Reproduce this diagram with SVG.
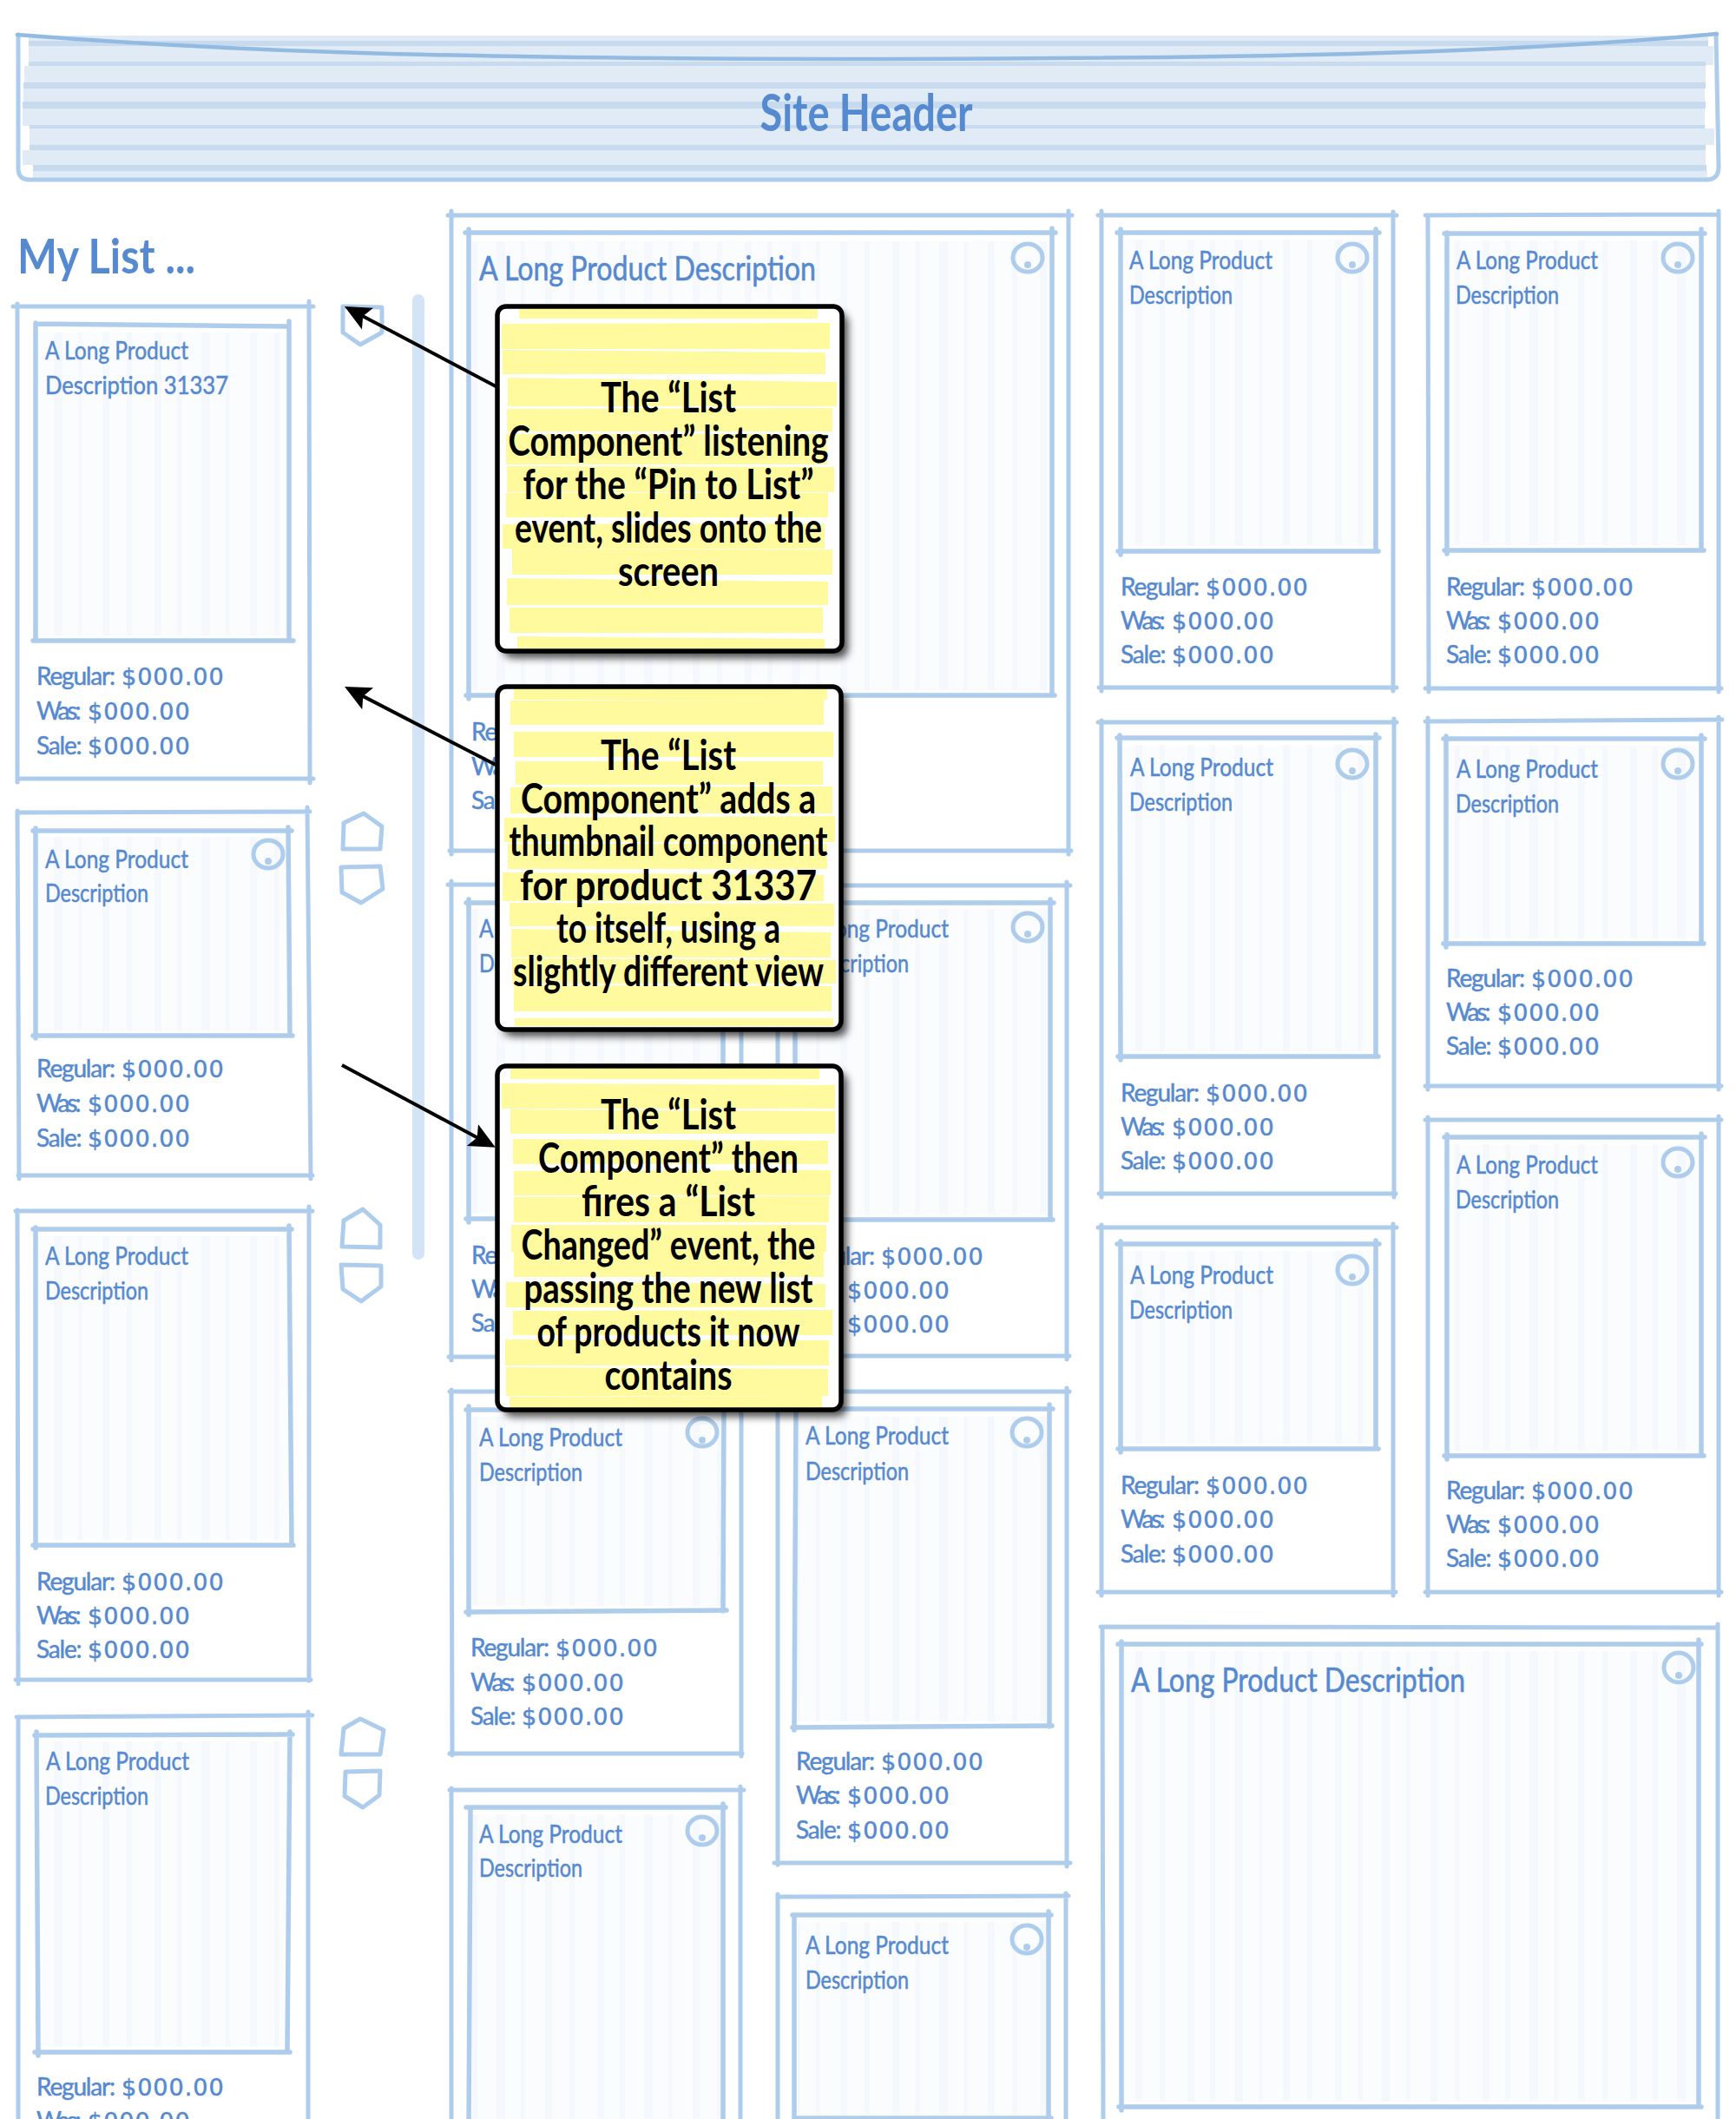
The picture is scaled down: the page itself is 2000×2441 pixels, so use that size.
<svg xmlns="http://www.w3.org/2000/svg" width="2000" height="2441" viewBox="0 0 2000 2441">
<style>
text{font-family:"Lato","Liberation Sans",sans-serif}
.o,.i,.ic,.c{fill:none;stroke:#aecdec;stroke-linecap:round;stroke-linejoin:round}
.o{stroke-width:5}.i{stroke-width:5.5}.ic{stroke-width:5}.c{stroke-width:5}
.d{fill:#aecdec}
.h{fill:url(#hatch)}
.t{fill:#5589d0;stroke:#5589d0;stroke-width:.5;font-size:28px}
.r{letter-spacing:-1.2px}
.w{letter-spacing:-3px}
.v{font-family:"DejaVu Sans",sans-serif;font-size:27px;letter-spacing:1px}
.tl{fill:#5589d0;stroke:#5589d0;stroke-width:.6;font-size:38px}
.hd{fill:#5589d0;font-size:60px;font-weight:700;text-anchor:middle}
.n{fill:#000;font-size:48px;font-weight:700;text-anchor:middle}
.b{fill:#fffa9e}
.nb{fill:#fff;filter:url(#sh)}
.ns{fill:none;stroke:#000;stroke-width:5.5}
.l{fill:#e1ebf6}.k{fill:#c8dbee}
.a{fill:none;stroke:#000;stroke-width:4;marker-end:url(#ah)}
</style>
<defs>
<pattern id="hatch" patternUnits="userSpaceOnUse" width="170" height="40">
<rect width="170" height="40" fill="#fbfcfe"/>
<rect x="8" width="8" height="40" fill="#f5f8fd"/><rect x="34" width="6" height="40" fill="#f5f8fd"/><rect x="62" width="10" height="40" fill="#f5f8fd"/><rect x="90" width="5" height="40" fill="#f5f8fd"/><rect x="118" width="8" height="40" fill="#f5f8fd"/><rect x="146" width="6" height="40" fill="#f5f8fd"/>
</pattern>
<marker id="ah" markerUnits="userSpaceOnUse" markerWidth="34" markerHeight="30" viewBox="0 -15 32 30" refX="20" refY="0" orient="auto"><path d="M30 0L0 -14L6 0L0 14Z" fill="#000"/></marker>
<filter id="sh" x="-10%" y="-10%" width="125%" height="125%"><feDropShadow dx="7" dy="8" stdDeviation="5" flood-color="#000" flood-opacity=".7"/></filter>
</defs>
<rect width="2000" height="2441" fill="#fff"/>

<g id="site-header">
<rect class="l" x="33" y="41" width="1935" height="6"/>
<rect class="k" x="33" y="47" width="1935" height="6"/>
<rect class="l" x="33" y="53" width="1941" height="22"/>
<rect class="k" x="33" y="71" width="1932" height="5"/>
<rect class="l" x="28" y="76" width="1937" height="21"/>
<rect class="k" x="27" y="95" width="1938" height="7"/>
<rect class="l" x="27" y="102" width="1937" height="16"/>
<rect class="k" x="26" y="117" width="1939" height="8"/>
<rect class="l" x="26" y="125" width="1938" height="20"/>
<rect class="k" x="34" y="144" width="1930" height="4"/>
<rect class="l" x="34" y="148" width="1941" height="19"/>
<rect class="k" x="34" y="167" width="1931" height="6"/>
<rect class="l" x="26" y="173" width="1939" height="17"/>
<rect class="k" x="38" y="190" width="1928" height="7"/>
<rect class="l" x="38" y="197" width="1929" height="9"/>
<path d="M21 40V194Q21 207 34 207H1966Q1980 207 1980 192L1977 39" fill="none" stroke="#aecdec" stroke-width="5" stroke-linecap="round"/>
<path d="M20 40C250 58 500 68 1000 68C1500 67 1750 60 1978 39" fill="none" stroke="#93bbe2" stroke-width="4.5" stroke-linecap="round"/>
<text class="hd" x="998" y="151" textLength="245" lengthAdjust="spacingAndGlyphs">Site Header</text>
</g>

<text id="my-list-title" x="20" y="315" fill="#5589d0" font-size="56" font-weight="700" textLength="205" lengthAdjust="spacingAndGlyphs">My List ...</text>

<rect id="scrollbar" x="475" y="339" width="14" height="1112" rx="7" fill="#d2e4f5"/>

<g id="L1">
<path class="o" d="M15 353H361M356 347L357 902M361 897H20M20 901V350"/>
<rect class="h" x="44" y="383" width="287" height="349"/>
<path class="i" d="M41 373L333 376M333 370V738M338 738H38M41 738V372"/>
<text class="t" x="52" y="414" textLength="165" lengthAdjust="spacingAndGlyphs">A Long Product</text>
<text class="t" x="52" y="454" textLength="211" lengthAdjust="spacingAndGlyphs">Description 31337</text>
<text class="t r" x="42" y="789">Regular: <tspan class="v" x="140">$000.00</tspan></text>
<text class="t w" x="42" y="829">Was: <tspan class="v" x="101">$000.00</tspan></text>
<text class="t r" x="42" y="869">Sale: <tspan class="v" x="101">$000.00</tspan></text>
</g>
<g id="L2">
<path class="o" d="M20 936L357 935M354 930L358 1358M360 1354H21M22 1358L20 934"/>
<rect class="h" x="44" y="964" width="288" height="223"/>
<ellipse class="c" cx="309" cy="984" rx="17" ry="16"/><circle class="d" cx="309" cy="992" r="4"/>
<path class="i" d="M38 957H336M332 953L334 1193M337 1193H38M41 1196V954"/>
<text class="t" x="52" y="1000" textLength="165" lengthAdjust="spacingAndGlyphs">A Long Product</text>
<text class="t" x="52" y="1039" textLength="119" lengthAdjust="spacingAndGlyphs">Description</text>
<text class="t r" x="42" y="1241">Regular: <tspan class="v" x="140">$000.00</tspan></text>
<text class="t w" x="42" y="1281">Was: <tspan class="v" x="101">$000.00</tspan></text>
<text class="t r" x="42" y="1321">Sale: <tspan class="v" x="101">$000.00</tspan></text>
</g>
<g id="L3">
<path class="o" d="M18 1395H360M356 1390V1936M358 1935H18M21 1940L20 1394"/>
<rect class="h" x="44" y="1424" width="288" height="350"/>
<path class="i" d="M38 1416H336M333 1412L336 1780M338 1780H38M41 1783V1414"/>
<text class="t" x="52" y="1457" textLength="165" lengthAdjust="spacingAndGlyphs">A Long Product</text>
<text class="t" x="52" y="1497" textLength="119" lengthAdjust="spacingAndGlyphs">Description</text>
<text class="t r" x="42" y="1832">Regular: <tspan class="v" x="140">$000.00</tspan></text>
<text class="t w" x="42" y="1871">Was: <tspan class="v" x="101">$000.00</tspan></text>
<text class="t r" x="42" y="1910">Sale: <tspan class="v" x="101">$000.00</tspan></text>
</g>
<g id="L4">
<path class="o" d="M19 1978L360 1976M355 1972V2460M21 2460V1978"/>
<rect class="h" x="46" y="2006" width="286" height="352"/>
<path class="i" d="M40 1999L337 1998M334 1995L331 2364M334 2364H40M44 2368L42 1995"/>
<text class="t" x="53" y="2039" textLength="165" lengthAdjust="spacingAndGlyphs">A Long Product</text>
<text class="t" x="52" y="2079" textLength="119" lengthAdjust="spacingAndGlyphs">Description</text>
<text class="t r" x="42" y="2414">Regular: <tspan class="v" x="140">$000.00</tspan></text>
<text class="t w" x="42" y="2453">Was: <tspan class="v" x="101">$000.00</tspan></text>
</g>

<g id="pin-icons">
<path class="ic" d="M395 353L440 354V383L415 397L395 383Z"/>
<path class="ic" d="M395 978L396 948L419 937L440 952L438 978Z"/>
<path class="ic" d="M393 999L438 998L441 1024L416 1040L394 1028Z"/>
<path class="ic" d="M394 1436L396 1406L418 1393L438 1411L438 1437Z"/>
<path class="ic" d="M393 1457L439 1458L439 1482L416 1499L395 1485Z"/>
<path class="ic" d="M393 2021L396 1991L415 1980L442 1993L438 2021Z"/>
<path class="ic" d="M398 2041L438 2040L437 2068L418 2082L397 2069Z"/>
</g>

<g id="M1">
<path class="o" d="M516 248H1235M1231 243V984M1234 980H518M520 984V243"/>
<rect class="h" x="543" y="278" width="666" height="517"/>
<ellipse class="c" cx="1184" cy="297" rx="17" ry="16"/><circle class="d" cx="1184" cy="305" r="4"/>
<path class="i" d="M536 268H1216M1212 263V801M1215 801H537M540 805V264"/>
<text class="tl" x="552" y="323" textLength="388" lengthAdjust="spacingAndGlyphs">A Long Product Description</text>
<text class="t r" x="543" y="853">Regular: <tspan class="v" x="641">$000.00</tspan></text>
<text class="t w" x="543" y="893">Was: <tspan class="v" x="602">$000.00</tspan></text>
<text class="t r" x="543" y="932">Sale: <tspan class="v" x="602">$000.00</tspan></text>
</g>
<g id="M2">
<path class="o" d="M516 1019H858M854 1015V1567M857 1563H517M520 1567V1015"/>
<rect class="h" x="543" y="1047" width="288" height="351"/>
<path class="i" d="M537 1040H837M833 1036V1404M836 1404H537M540 1408V1036"/>
<text class="t" x="552" y="1080" textLength="165" lengthAdjust="spacingAndGlyphs">A Long Product</text>
<text class="t" x="552" y="1120" textLength="119" lengthAdjust="spacingAndGlyphs">Description</text>
<text class="t r" x="543" y="1456">Regular: <tspan class="v" x="641">$000.00</tspan></text>
<text class="t w" x="543" y="1495">Was: <tspan class="v" x="602">$000.00</tspan></text>
<text class="t r" x="543" y="1534">Sale: <tspan class="v" x="602">$000.00</tspan></text>
</g>
<g id="M3">
<path class="o" d="M892 1020H1233M1229 1016V1566M1232 1562H893M896 1566V1016"/>
<rect class="h" x="919" y="1047" width="288" height="352"/>
<ellipse class="c" cx="1184" cy="1068" rx="17" ry="16"/><circle class="d" cx="1184" cy="1076" r="4"/>
<path class="i" d="M913 1040H1214M1210 1036V1405M1213 1405H913M916 1409V1036"/>
<text class="t" x="928" y="1080" textLength="165" lengthAdjust="spacingAndGlyphs">A Long Product</text>
<text class="t" x="928" y="1120" textLength="119" lengthAdjust="spacingAndGlyphs">Description</text>
<text class="t r" x="917" y="1457">Regular: <tspan class="v" x="1015">$000.00</tspan></text>
<text class="t w" x="917" y="1496">Was: <tspan class="v" x="976">$000.00</tspan></text>
<text class="t r" x="917" y="1535">Sale: <tspan class="v" x="976">$000.00</tspan></text>
</g>
<g id="M4">
<path class="o" d="M518 1603H858M854 1599V2023M855 2020H518M521 2022L520 1601"/>
<rect class="h" x="543" y="1632" width="288" height="218"/>
<ellipse class="c" cx="809" cy="1650" rx="17" ry="16"/><circle class="d" cx="809" cy="1659" r="4"/>
<path class="i" d="M537 1624H837L834 1620L833 1856M837 1855L537 1857M540 1860V1620"/>
<text class="t" x="552" y="1666" textLength="165" lengthAdjust="spacingAndGlyphs">A Long Product</text>
<text class="t" x="552" y="1706" textLength="119" lengthAdjust="spacingAndGlyphs">Description</text>
<text class="t r" x="542" y="1908">Regular: <tspan class="v" x="640">$000.00</tspan></text>
<text class="t w" x="542" y="1948">Was: <tspan class="v" x="601">$000.00</tspan></text>
<text class="t r" x="542" y="1987">Sale: <tspan class="v" x="601">$000.00</tspan></text>
</g>
<g id="M5">
<path class="o" d="M892 1603H1232M1229 1599V2150M1233 2146H892M896 2148V1603"/>
<rect class="h" x="918" y="1632" width="288" height="351"/>
<ellipse class="c" cx="1183" cy="1650" rx="17" ry="16"/><circle class="d" cx="1183" cy="1659" r="4"/>
<path class="i" d="M913 1623H1213M1209 1618V1989M1212 1988L913 1990M915 1993L917 1623"/>
<text class="t" x="928" y="1664" textLength="165" lengthAdjust="spacingAndGlyphs">A Long Product</text>
<text class="t" x="928" y="1705" textLength="119" lengthAdjust="spacingAndGlyphs">Description</text>
<text class="t r" x="917" y="2039">Regular: <tspan class="v" x="1015">$000.00</tspan></text>
<text class="t w" x="917" y="2078">Was: <tspan class="v" x="976">$000.00</tspan></text>
<text class="t r" x="917" y="2118">Sale: <tspan class="v" x="976">$000.00</tspan></text>
</g>
<g id="M6">
<path class="o" d="M518 2062H857M853 2058V2460M520 2460V2060"/>
<rect class="h" x="544" y="2090" width="286" height="351"/>
<ellipse class="c" cx="809" cy="2109" rx="17" ry="16"/><circle class="d" cx="809" cy="2117" r="4"/>
<path class="i" d="M537 2082H836M833 2078V2460M540 2460L542 2082"/>
<text class="t" x="552" y="2123" textLength="165" lengthAdjust="spacingAndGlyphs">A Long Product</text>
<text class="t" x="552" y="2162" textLength="119" lengthAdjust="spacingAndGlyphs">Description</text>
</g>
<g id="M7">
<path class="o" d="M896 2185L1231 2184M1228 2181V2460M896 2460V2182"/>
<rect class="h" x="919" y="2214" width="286" height="222"/>
<ellipse class="c" cx="1183" cy="2234" rx="17" ry="16"/><circle class="d" cx="1183" cy="2243" r="4"/>
<path class="i" d="M913 2206H1211M1208 2202V2440M1211 2440H915M915 2443V2206"/>
<text class="t" x="928" y="2251" textLength="165" lengthAdjust="spacingAndGlyphs">A Long Product</text>
<text class="t" x="928" y="2291" textLength="119" lengthAdjust="spacingAndGlyphs">Description</text>
</g>

<g id="R1">
<path class="o" d="M1265 248H1609M1605 244V796M1609 792H1266M1269 796V243"/>
<rect class="h" x="1293" y="276" width="290" height="353"/>
<ellipse class="c" cx="1558" cy="297" rx="17" ry="16"/><circle class="d" cx="1558" cy="305" r="4"/>
<path class="i" d="M1287 268H1589M1585 264V635M1588 635H1288M1291 639V264"/>
<text class="t" x="1301" y="310" textLength="165" lengthAdjust="spacingAndGlyphs">A Long Product</text>
<text class="t" x="1301" y="350" textLength="119" lengthAdjust="spacingAndGlyphs">Description</text>
<text class="t r" x="1291" y="686">Regular: <tspan class="v" x="1389">$000.00</tspan></text>
<text class="t w" x="1291" y="725">Was: <tspan class="v" x="1350">$000.00</tspan></text>
<text class="t r" x="1291" y="764">Sale: <tspan class="v" x="1350">$000.00</tspan></text>
</g>
<g id="R2">
<path class="o" d="M1642 248L1980 247M1980 243V797M1983 793H1642M1646 797L1645 248"/>
<rect class="h" x="1670" y="277" width="288" height="351"/>
<ellipse class="c" cx="1933" cy="297" rx="17" ry="16"/><circle class="d" cx="1933" cy="305" r="4"/>
<path class="i" d="M1664 269H1964M1960 264V634M1963 634H1664M1667 638V268"/>
<text class="t" x="1678" y="310" textLength="163" lengthAdjust="spacingAndGlyphs">A Long Product</text>
<text class="t" x="1677" y="350" textLength="119" lengthAdjust="spacingAndGlyphs">Description</text>
<text class="t r" x="1666" y="686">Regular: <tspan class="v" x="1764">$000.00</tspan></text>
<text class="t w" x="1666" y="725">Was: <tspan class="v" x="1725">$000.00</tspan></text>
<text class="t r" x="1666" y="764">Sale: <tspan class="v" x="1725">$000.00</tspan></text>
</g>
<g id="R3">
<path class="o" d="M1265 832H1609M1606 828V1379M1608 1375H1266M1269 1379V830"/>
<rect class="h" x="1293" y="858" width="290" height="353"/>
<ellipse class="c" cx="1558" cy="880" rx="17" ry="16"/><circle class="d" cx="1558" cy="888" r="4"/>
<path class="i" d="M1287 850H1589M1585 846V1217M1588 1217H1288M1291 1221L1290 847"/>
<text class="t" x="1302" y="894" textLength="165" lengthAdjust="spacingAndGlyphs">A Long Product</text>
<text class="t" x="1301" y="934" textLength="119" lengthAdjust="spacingAndGlyphs">Description</text>
<text class="t r" x="1291" y="1269">Regular: <tspan class="v" x="1389">$000.00</tspan></text>
<text class="t w" x="1291" y="1308">Was: <tspan class="v" x="1350">$000.00</tspan></text>
<text class="t r" x="1291" y="1347">Sale: <tspan class="v" x="1350">$000.00</tspan></text>
</g>
<g id="R4">
<path class="o" d="M1642 831L1984 829M1980 826V1255M1983 1251H1642M1645 1255V827"/>
<rect class="h" x="1669" y="859" width="288" height="222"/>
<ellipse class="c" cx="1933" cy="880" rx="17" ry="16"/><circle class="d" cx="1933" cy="888" r="4"/>
<path class="i" d="M1663 851H1964M1960 847V1087M1963 1087H1663M1666 1091V848"/>
<text class="t" x="1678" y="896" textLength="163" lengthAdjust="spacingAndGlyphs">A Long Product</text>
<text class="t" x="1677" y="936" textLength="119" lengthAdjust="spacingAndGlyphs">Description</text>
<text class="t r" x="1666" y="1137">Regular: <tspan class="v" x="1764">$000.00</tspan></text>
<text class="t w" x="1666" y="1176">Was: <tspan class="v" x="1725">$000.00</tspan></text>
<text class="t r" x="1666" y="1215">Sale: <tspan class="v" x="1725">$000.00</tspan></text>
</g>
<g id="R5">
<path class="o" d="M1265 1414H1609M1605 1410V1838M1608 1834H1265M1269 1838V1411"/>
<rect class="h" x="1293" y="1441" width="290" height="222"/>
<ellipse class="c" cx="1558" cy="1463" rx="17" ry="16"/><circle class="d" cx="1558" cy="1471" r="4"/>
<path class="i" d="M1287 1433H1589M1585 1429V1669M1588 1669H1288M1291 1673V1430"/>
<text class="t" x="1302" y="1479" textLength="165" lengthAdjust="spacingAndGlyphs">A Long Product</text>
<text class="t" x="1301" y="1519" textLength="119" lengthAdjust="spacingAndGlyphs">Description</text>
<text class="t r" x="1291" y="1721">Regular: <tspan class="v" x="1389">$000.00</tspan></text>
<text class="t w" x="1291" y="1760">Was: <tspan class="v" x="1350">$000.00</tspan></text>
<text class="t r" x="1291" y="1800">Sale: <tspan class="v" x="1350">$000.00</tspan></text>
</g>
<g id="R6">
<path class="o" d="M1642 1290H1983M1980 1286V1838M1983 1834H1642M1645 1838V1287"/>
<rect class="h" x="1670" y="1318" width="288" height="353"/>
<ellipse class="c" cx="1933" cy="1339" rx="17" ry="16"/><circle class="d" cx="1933" cy="1347" r="4"/>
<path class="i" d="M1664 1310H1964M1960 1306V1677M1963 1677H1664M1667 1681V1307"/>
<text class="t" x="1678" y="1352" textLength="163" lengthAdjust="spacingAndGlyphs">A Long Product</text>
<text class="t" x="1677" y="1392" textLength="119" lengthAdjust="spacingAndGlyphs">Description</text>
<text class="t r" x="1666" y="1727">Regular: <tspan class="v" x="1764">$000.00</tspan></text>
<text class="t w" x="1666" y="1766">Was: <tspan class="v" x="1725">$000.00</tspan></text>
<text class="t r" x="1666" y="1805">Sale: <tspan class="v" x="1725">$000.00</tspan></text>
</g>
<g id="R7">
<path class="o" d="M1268 1874L1979 1875M1979 1871V2460M1271 2460L1270 1875"/>
<rect class="h" x="1295" y="1902" width="660" height="519"/>
<ellipse class="c" cx="1934" cy="1921" rx="17" ry="17"/><circle class="d" cx="1934" cy="1930" r="4"/>
<path class="i" d="M1288 1894H1960M1957 1889V2427M1960 2427H1289M1292 2431V1891"/>
<text class="tl" x="1303" y="1949" textLength="385" lengthAdjust="spacingAndGlyphs">A Long Product Description</text>
</g>

<g id="connectors">
<path class="a" d="M573 446L405.8 357.7"/>
<path class="a" d="M573 882L405.9 795.6"/>
<path class="a" d="M394 1227L562 1317"/>
</g>

<g id="note-1">
<rect class="nb" x="573" y="353" width="397" height="397" rx="10"/>
<path class="b" d="M598 356H942V367H598ZM578 373L956 372V402H578ZM579 403L951 406V431H579ZM585 435L964 440V468H585ZM584 471L959 470V497H584ZM583 500H953V535H583ZM584 537L961 538V567H584ZM583 568H954V596H583ZM579 604L950 603V632H579ZM590 632L959 633V662H590ZM584 666L954 670V697H584ZM587 700H948V729H587ZM596 733L950 736V747H596Z"/>
<rect class="ns" x="573" y="353" width="397" height="397" rx="10"/>
<text class="n" x="770" y="475" textLength="156" lengthAdjust="spacingAndGlyphs">The “List</text>
<text class="n" x="770" y="525" textLength="369" lengthAdjust="spacingAndGlyphs">Component” listening</text>
<text class="n" x="770" y="575" textLength="335" lengthAdjust="spacingAndGlyphs">for the “Pin to List”</text>
<text class="n" x="770" y="625" textLength="354" lengthAdjust="spacingAndGlyphs">event, slides onto the</text>
<text class="n" x="770" y="675" textLength="116" lengthAdjust="spacingAndGlyphs">screen</text>
</g>
<g id="note-2">
<rect class="nb" x="573" y="791" width="396" height="395" rx="10"/>
<path class="b" d="M592 794H953V806H592ZM588 807L949 806V835H588ZM592 843H960V872H592ZM594 877H948V904H594ZM588 907L959 906V937H588ZM581 942L962 940V970H581ZM585 972H953V1001H585ZM579 1005L949 1008V1038H579ZM587 1040L961 1041V1067H587ZM589 1070L957 1074V1103H589ZM590 1104L963 1106V1133H590ZM592 1135L958 1136V1165H592ZM593 1173H960V1182H593Z"/>
<rect class="ns" x="573" y="791" width="396" height="395" rx="10"/>
<text class="n" x="770" y="887" textLength="156" lengthAdjust="spacingAndGlyphs">The “List</text>
<text class="n" x="770" y="937" textLength="340" lengthAdjust="spacingAndGlyphs">Component” adds a</text>
<text class="n" x="770" y="986" textLength="367" lengthAdjust="spacingAndGlyphs">thumbnail component</text>
<text class="n" x="770" y="1037" textLength="342" lengthAdjust="spacingAndGlyphs">for product 31337</text>
<text class="n" x="770" y="1086" textLength="258" lengthAdjust="spacingAndGlyphs">to itself, using a</text>
<text class="n" x="770" y="1136" textLength="358" lengthAdjust="spacingAndGlyphs">slightly different view</text>
</g>
<g id="note-3">
<rect class="nb" x="573" y="1228" width="396" height="396" rx="10"/>
<path class="b" d="M588 1230H944V1243H588ZM578 1248L962 1250V1277H578ZM588 1278L962 1280V1306H588ZM591 1312L954 1314V1341H591ZM592 1349L957 1348V1377H592ZM592 1379L955 1378V1408H592ZM589 1411L952 1411V1442H589ZM592 1442H949V1471H592ZM583 1477L951 1479V1506H583ZM591 1510L959 1509V1538H591ZM582 1543L955 1544V1573H582ZM583 1575L954 1577V1608H583ZM587 1609L947 1608V1621H587Z"/>
<rect class="ns" x="573" y="1228" width="396" height="396" rx="10"/>
<text class="n" x="770" y="1301" textLength="156" lengthAdjust="spacingAndGlyphs">The “List</text>
<text class="n" x="770" y="1351" textLength="300" lengthAdjust="spacingAndGlyphs">Component” then</text>
<text class="n" x="770" y="1401" textLength="200" lengthAdjust="spacingAndGlyphs">fires a “List</text>
<text class="n" x="770" y="1451" textLength="339" lengthAdjust="spacingAndGlyphs">Changed” event, the</text>
<text class="n" x="770" y="1501" textLength="333" lengthAdjust="spacingAndGlyphs">passing the new list</text>
<text class="n" x="770" y="1551" textLength="303" lengthAdjust="spacingAndGlyphs">of products it now</text>
<text class="n" x="770" y="1601" textLength="147" lengthAdjust="spacingAndGlyphs">contains</text>
</g>
</svg>
